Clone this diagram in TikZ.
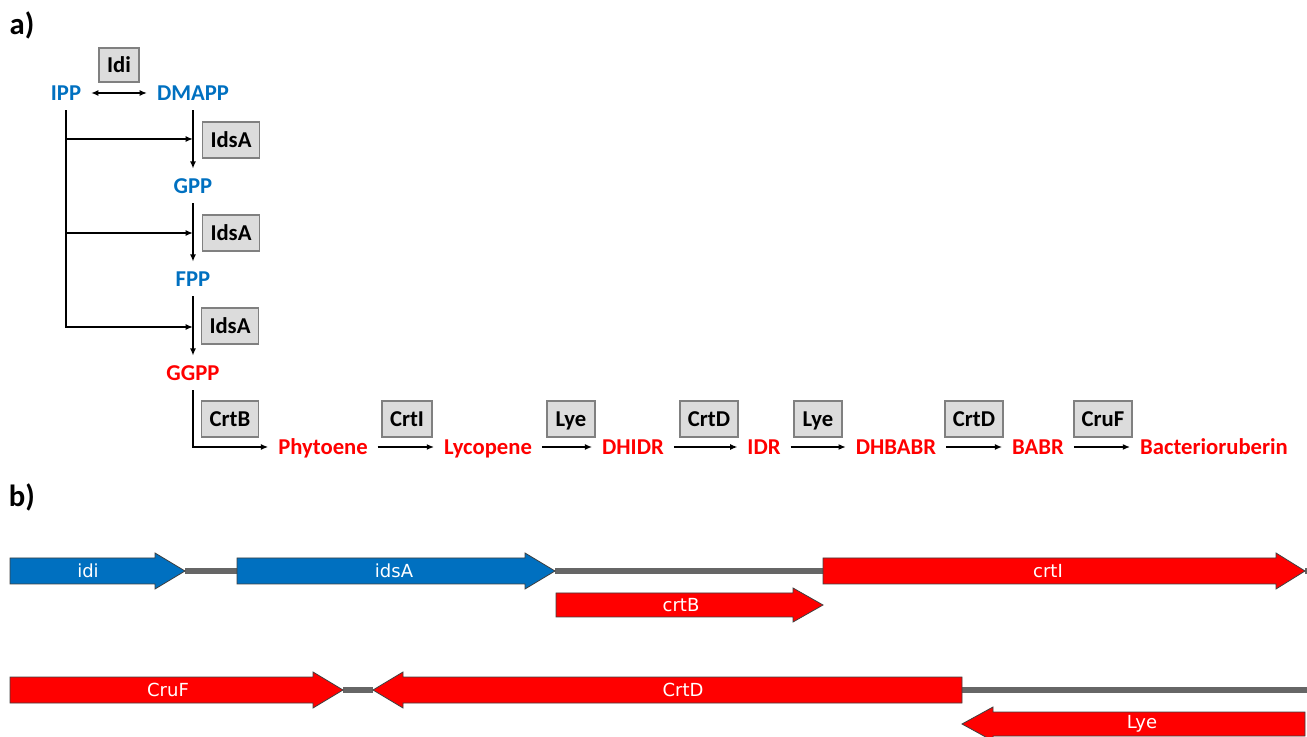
\documentclass[tikz,border=0pt]{standalone}
\usepackage{fontspec}
\setmainfont{Carlito}
\newfontfamily\genefont{DejaVu Sans}
\usetikzlibrary{arrows.meta}
\definecolor{metblue}{HTML}{0070C0}
\definecolor{metred}{HTML}{FF0000}
\definecolor{linegray}{HTML}{666666}
\definecolor{boxfill}{HTML}{DCDCDC}
\definecolor{boxline}{HTML}{808080}
\definecolor{geneedge}{HTML}{404040}
\begin{document}
\begin{tikzpicture}[x=0.75pt,y=-0.75pt,
  met/.style={font=\fontsize{17}{20}\selectfont\bfseries, inner sep=0pt, outer sep=7.5pt, text height=11pt, text depth=0pt},
  mb/.style={met,text=metblue},
  mr/.style={met,text=metred},
  enz/.style={draw=boxline, fill=boxfill, line width=1.4pt, font=\fontsize{17}{20}\selectfont\bfseries, minimum height=27pt, inner sep=0pt, text height=11pt, text depth=0pt},
  conn/.style={line width=1.1pt, -{Latex[length=5.5pt,width=4.5pt]}},
  genebox/.style={draw=geneedge, line width=0.6pt},
  genelabel/.style={font=\genefont\fontsize{13.5}{16}\selectfont, text=white, inner sep=0pt},
  spacer/.style={draw=linegray, line width=4pt},
  panel/.style={font=\fontsize{23}{27}\selectfont\bfseries, inner sep=0pt}]
\useasboundingbox (0,0) rectangle (1307,737);
% panel labels
\node[panel] (pa) at (22,25) {a)};
\node[panel] (pb) at (22,497) {b)};
% metabolites
\node[mb] (IPP) at (66,93) {IPP};
\node[mb] (DMAPP) at (193,93) {DMAPP};
\node[mb] (GPP) at (193,186) {GPP};
\node[mb] (FPP) at (193,279) {FPP};
\node[mr] (GGPP) at (193,373) {GGPP};
\node[mr] (Phy) at (323,447) {Phytoene};
\node[mr] (Lyc) at (488,447) {Lycopene};
\node[mr] (DHIDR) at (633,447) {DHIDR};
\node[mr] (IDR) at (764,447) {IDR};
\node[mr] (DHBABR) at (896,447) {DHBABR};
\node[mr] (BABR) at (1038,447) {BABR};
\node[mr] (BR) at (1214,447) {Bacterioruberin};
% enzymes
\node[enz,minimum width=30pt,minimum height=26pt] (Idi) at (119,65) {Idi};
\node[enz,minimum width=42.75pt] (IdsA1) at (231,140) {IdsA};
\node[enz,minimum width=42.75pt] (IdsA2) at (231,233) {IdsA};
\node[enz,minimum width=42.75pt] (IdsA3) at (230,326) {IdsA};
\node[enz,minimum width=42.75pt] (CrtB) at (230,419) {CrtB};
\node[enz,minimum width=37.5pt] (CrtI) at (407,419) {CrtI};
\node[enz,minimum width=36pt] (Lye1) at (571,419) {Lye};
\node[enz,minimum width=43.5pt] (CrtD1) at (709,419) {CrtD};
\node[enz,minimum width=36pt] (Lye2) at (818,419) {Lye};
\node[enz,minimum width=43.5pt] (CrtD2) at (974,419) {CrtD};
\node[enz,minimum width=43.5pt] (CruF) at (1103,419) {CruF};
% connectors
\draw[line width=1.1pt, {Latex[length=5.5pt,width=4.5pt]}-{Latex[length=5.5pt,width=4.5pt]}] (IPP) -- (DMAPP);
\coordinate (j1) at (193,139);
\coordinate (j2) at (193,233);
\coordinate (j3) at (193,327);
\draw[conn] (DMAPP) -- (GPP);
\draw[conn] (GPP) -- (FPP);
\draw[conn] (FPP) -- (GGPP);
\draw[conn] (IPP.south) |- (j3);
\draw[conn] (IPP.south |- j1) -- (j1);
\draw[conn] (IPP.south |- j2) -- (j2);
\draw[conn] (GGPP) |- (Phy);
\draw[conn] (Phy) -- (Lyc);
\draw[conn] (Lyc) -- (DHIDR);
\draw[conn] (DHIDR) -- (IDR);
\draw[conn] (IDR) -- (DHBABR);
\draw[conn] (DHBABR) -- (BABR);
\draw[conn] (BABR) -- (BR);
% panel b: spacers
\draw[spacer] (185,571) -- (237,571);
\draw[spacer] (555,571) -- (823,571);
\draw[spacer] (1305,571) -- (1307,571);
\draw[spacer] (343,690) -- (373,690);
\draw[spacer] (962,690) -- (1307,690);
% genes row 1
\draw[genebox,fill=metblue] (10,558) -- (155,558) -- (155,553) -- (185,571) -- (155,589) -- (155,584) -- (10,584) -- cycle;
\node[genelabel] (gidi) at (88,571) {idi};
\draw[genebox,fill=metblue] (237,558) -- (525,558) -- (525,553) -- (555,571) -- (525,589) -- (525,584) -- (237,584) -- cycle;
\node[genelabel] (gidsA) at (394,571) {idsA};
\draw[genebox,fill=metred] (823,558) -- (1276,558) -- (1276,553) -- (1305,571) -- (1276,589) -- (1276,584) -- (823,584) -- cycle;
\node[genelabel] (gcrtI) at (1048,571) {crtI};
\draw[genebox,fill=metred] (556,593) -- (793,593) -- (793,588) -- (823,605) -- (793,622) -- (793,617) -- (556,617) -- cycle;
\node[genelabel] (gcrtB) at (681,605) {crtB};
% genes row 2
\draw[genebox,fill=metred] (10,677) -- (313,677) -- (313,672) -- (343,690) -- (313,708) -- (313,703) -- (10,703) -- cycle;
\node[genelabel] (gCruF) at (168,690) {CruF};
\draw[genebox,fill=metred] (962,677) -- (403,677) -- (403,672) -- (373,690) -- (403,708) -- (403,703) -- (962,703) -- cycle;
\node[genelabel] (gCrtD) at (683,690) {CrtD};
\draw[genebox,fill=metred] (1305,712) -- (993,712) -- (993,707) -- (962,724) -- (993,741) -- (993,736) -- (1305,736) -- cycle;
\node[genelabel] (gLye) at (1142,724) {Lye};
\end{tikzpicture}
\end{document}
